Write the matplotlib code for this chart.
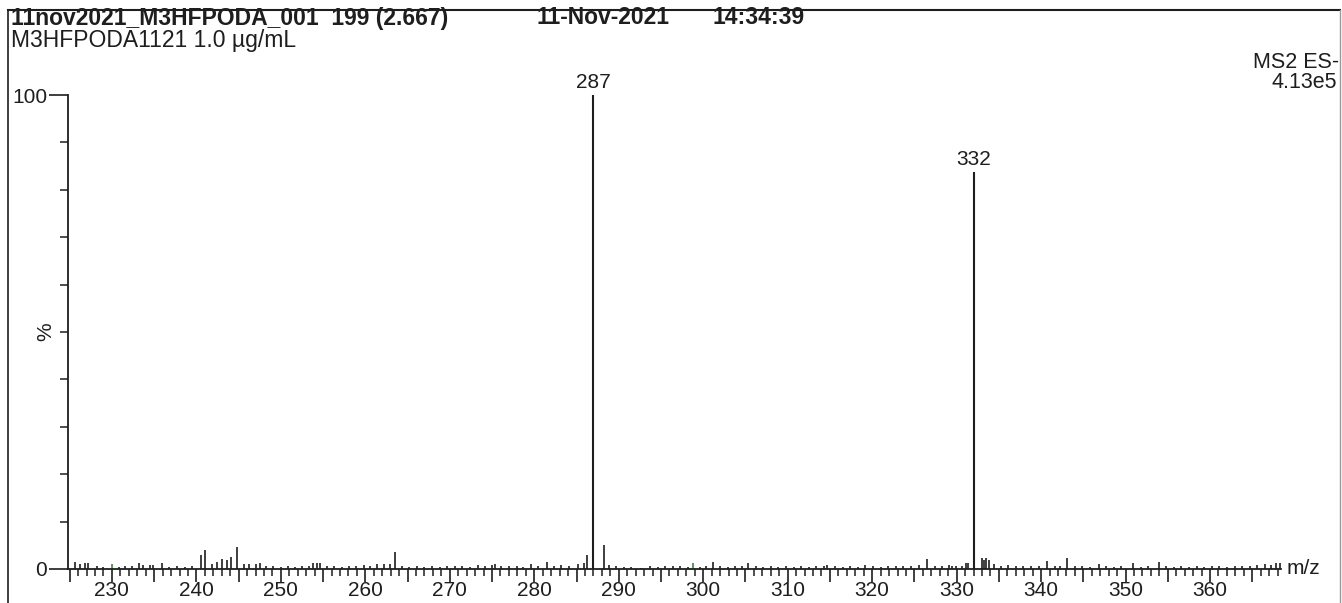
import matplotlib
matplotlib.use("Agg")
import matplotlib.pyplot as plt
from matplotlib.ticker import MultipleLocator, FuncFormatter, FixedLocator
from matplotlib.lines import Line2D

plt.rcParams['font.family'] = ['Liberation Sans', 'DejaVu Sans']

# ---- data ----
main_mz = [287.0, 332.0]
main_int = [100.0, 83.8]
main_labels = ["287", "332"]

noise_mz = [225.6, 226.2, 226.8, 227.2, 228.2, 229.0, 230.8, 231.6, 232.4, 233.2,
            233.7, 234.5, 234.9, 235.9, 236.8, 237.7, 238.6, 239.5, 240.6, 241.0,
            241.8, 242.4, 243.0, 243.6, 244.1, 244.8, 245.6, 246.2, 247.1, 247.5,
            248.2, 249.1, 250.0, 250.9, 251.7, 252.5, 253.3, 253.8, 254.3, 254.6,
            255.5, 256.3, 257.2, 258.1, 258.9, 259.8, 260.6, 261.4, 262.2, 262.9,
            263.5, 264.3, 265.2, 266.1, 267.0, 267.9, 268.8, 269.7, 270.6, 271.5,
            272.4, 273.3, 274.2, 275.0, 275.3, 276.1, 277.0, 277.9, 278.7, 279.6,
            280.4, 281.5, 282.3, 283.2, 284.1, 285.2, 285.9, 286.2, 288.3, 288.8,
            289.7, 290.6, 291.5, 292.6, 293.7, 294.6, 295.5, 296.4, 297.3, 298.2,
            299.6, 300.3, 301.1, 302.0, 302.9, 303.8, 304.6, 305.3, 306.2, 307.1,
            308.0, 308.9, 309.8, 310.7, 311.6, 312.5, 313.4, 314.3, 314.7, 315.6,
            316.5, 317.4, 318.3, 319.2, 320.1, 321.0, 321.9, 322.8, 323.7, 324.6,
            325.5, 326.5, 327.4, 328.3, 329.1, 329.5, 329.9, 330.6, 331.1, 331.4,
            333.0, 333.2, 333.5, 333.8, 334.4, 335.2, 336.1, 337.0, 337.9, 338.8,
            339.7, 340.7, 341.6, 342.2, 343.1, 344.0, 344.9, 345.8, 346.8, 347.7,
            348.6, 349.5, 350.9, 351.8, 352.7, 353.9, 354.8, 355.7, 356.6, 357.5,
            358.4, 359.3, 360.2, 361.1, 362.0, 362.9, 363.8, 364.7, 365.6, 366.5,
            367.2, 367.8, 368.3]
noise_int = [1.4, 1.0, 1.3, 1.3, 0.6, 0.5, 0.5, 0.6, 0.6, 1.3,
             0.8, 0.8, 0.8, 1.3, 0.5, 0.6, 0.5, 0.6, 3.0, 4.0,
             1.0, 1.5, 2.1, 2.0, 2.5, 4.6, 1.0, 1.0, 1.0, 1.2,
             0.6, 0.7, 0.5, 0.6, 0.5, 0.6, 0.7, 1.2, 1.2, 1.2,
             0.7, 0.6, 0.5, 0.7, 0.6, 0.8, 0.6, 1.0, 1.1, 1.0,
             3.6, 0.7, 0.5, 0.6, 0.4, 0.6, 0.5, 0.6, 0.7, 0.6,
             0.5, 0.8, 0.7, 0.9, 1.0, 0.6, 0.7, 0.6, 0.5, 1.0,
             0.7, 1.5, 0.6, 0.8, 0.7, 1.1, 1.2, 3.0, 5.1, 0.8,
             0.7, 0.4, 0.4, 0.3, 0.6, 0.5, 0.6, 0.7, 0.6, 0.5,
             0.4, 0.6, 1.5, 0.6, 0.5, 0.7, 0.6, 1.2, 0.6, 0.5,
             0.6, 0.5, 0.6, 0.5, 0.6, 0.5, 0.7, 0.6, 0.8, 0.6,
             0.5, 0.6, 0.4, 0.8, 0.6, 0.5, 0.7, 0.6, 0.7, 0.6,
             0.8, 2.1, 0.6, 0.7, 0.8, 0.7, 0.7, 0.6, 1.3, 1.3,
             2.3, 2.0, 2.4, 1.8, 1.0, 0.7, 0.8, 0.6, 0.7, 0.6,
             0.7, 1.7, 0.6, 0.7, 2.3, 0.6, 0.7, 0.5, 1.0, 0.6,
             0.5, 0.7, 1.2, 0.5, 0.6, 1.5, 0.6, 0.5, 0.6, 0.5,
             0.6, 0.5, 0.6, 0.7, 0.5, 0.6, 0.6, 0.7, 0.8, 1.0,
             0.9, 1.3, 1.2]

green_mz = [230.0, 298.8]
green_int = [1.0, 1.3]

x_min, x_max = 224.8, 368.4
y_min, y_max = 0, 100

title_line1 = "11nov2021_M3HFPODA_001  199 (2.667)"
title_date = "11-Nov-2021"
title_time = "14:34:39"
title_line2 = "M3HFPODA1121 1.0 \u00b5g/mL"
func_label = "MS2 ES-"
scale_label = "4.13e5"
x_label = "m/z"
y_label = "%"

# ---- figure ----
W, H = 1342, 603
fig = plt.figure(figsize=(W / 100, H / 100), dpi=100)
fig.patch.set_facecolor("white")

left_px, right_px = 68, 1281
top_px, base_px = 95, 569
ax = fig.add_axes([left_px / W, 1 - base_px / H,
                   (right_px - left_px) / W, (base_px - top_px) / H])
ax.set_facecolor("none")

ink = "#1e1e1e"
fs_title = 16.5
fs_head = 15.5
fs_tick = 15
ax.vlines(noise_mz, 0, noise_int, color=ink, lw=1.2)
ax.vlines(green_mz, 0, green_int, color="#3a8a3a", lw=1.2)
ax.vlines(main_mz, 0, main_int, color=ink, lw=1.5)
for m, i, lab in zip(main_mz, main_int, main_labels):
    ax.annotate(lab, (m, i), xytext=(0, 2), textcoords="offset points",
                ha="center", va="bottom", fontsize=fs_tick, color=ink,
                annotation_clip=False)

ax.set_xlim(x_min, x_max)
ax.set_ylim(y_min, y_max)

for s in ("top", "right"):
    ax.spines[s].set_visible(False)
for s in ("left", "bottom"):
    ax.spines[s].set_color(ink)
    ax.spines[s].set_linewidth(1.3)

ax.xaxis.set_major_locator(MultipleLocator(5))
ax.xaxis.set_minor_locator(MultipleLocator(1))
ax.xaxis.set_major_formatter(FuncFormatter(
    lambda v, p: f"{int(round(v))}" if round(v) % 10 == 0 else ""))
ax.tick_params(axis="x", which="major", direction="out", length=9, width=1.2,
               color=ink, labelsize=fs_tick, pad=0, labelcolor=ink)
ax.tick_params(axis="x", which="minor", direction="out", length=5, width=1.1,
               color=ink)

ax.yaxis.set_major_locator(FixedLocator([0, 100]))
ax.yaxis.set_minor_locator(FixedLocator(list(range(10, 100, 10))))
ax.tick_params(axis="y", which="major", direction="out", length=14, width=1.2,
               color=ink, labelsize=fs_tick, pad=1, labelcolor=ink)
ax.tick_params(axis="y", which="minor", direction="out", length=6, width=1.1,
               color=ink)

ax.text(-0.018, 0.5, y_label, transform=ax.transAxes, rotation=90,
        ha="center", va="center", fontsize=fs_tick, color=ink)
ax.text(x_max + 0.7, 0, x_label, ha="left", va="center", fontsize=fs_tick,
        color=ink, clip_on=False)

# header texts
def fx(px):
    return px / W

def fy(py):
    return 1 - py / H

fig.text(fx(11), fy(18), title_line1, ha="left", va="center", fontsize=fs_title,
         fontweight="bold", color=ink)
fig.text(fx(537), fy(18), title_date, ha="left", va="center", fontsize=fs_title,
         fontweight="bold", color=ink)
fig.text(fx(713), fy(18), title_time, ha="left", va="center", fontsize=fs_title,
         fontweight="bold", color=ink)
fig.text(fx(11), fy(40), title_line2, ha="left", va="center", fontsize=fs_title,
         color=ink)
fig.text(fx(1339), fy(62), func_label, ha="right", va="center", fontsize=fs_head,
         color=ink)
fig.text(fx(1337), fy(82), scale_label, ha="right", va="center", fontsize=fs_head,
         color=ink)

# outer frame
fig.add_artist(Line2D([fx(8), fx(8)], [fy(10), 0], color=ink, lw=1.2))
fig.add_artist(Line2D([fx(8), fx(1340)], [fy(10), fy(10)], color=ink, lw=1.5))
fig.add_artist(Line2D([fx(1340), fx(1340)], [fy(10), 0], color="#9a9a9a", lw=1.0))

fig.savefig("out.png", dpi=100, facecolor="white")
